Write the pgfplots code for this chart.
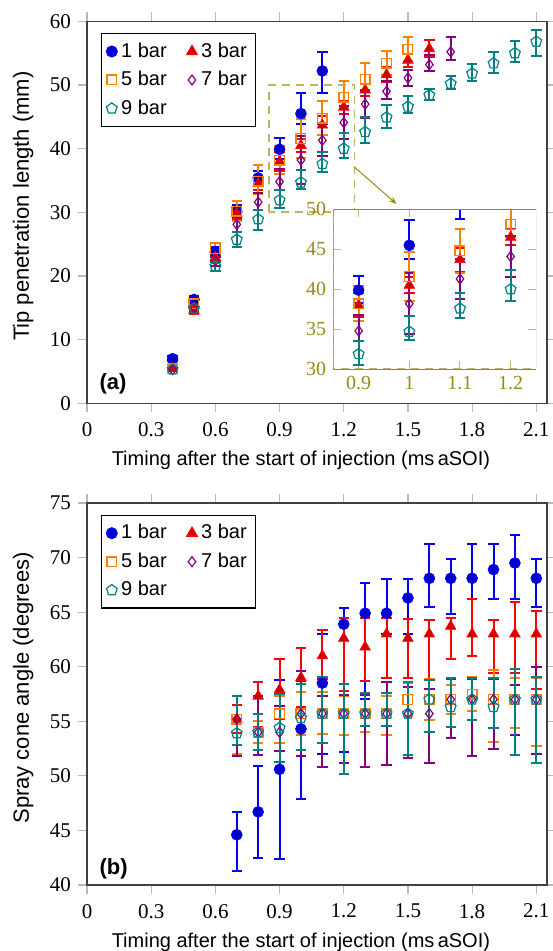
\documentclass[border=0pt]{standalone}
\usepackage{pgfplots}
\pgfplotsset{compat=1.18}
\usepackage{pgfplotstable}
\usepackage{fontspec}
\setmainfont{Liberation Serif}
\setsansfont{Liberation Sans}
\usetikzlibrary{arrows.meta}

\definecolor{insetcol}{RGB}{150,140,20}
\definecolor{dashcol}{RGB}{190,180,100}
\definecolor{tickgray}{RGB}{185,185,185}

% tip penetration (a): x, y, err+, err-
\pgfplotstableread{
x y ep em
0.4 7.0 0.4 0.4
0.5 16.3 0.6 0.6
0.6 23.8 0.8 0.8
0.7 30.1 1.0 1.0
0.8 35.4 1.1 1.1
0.9 39.9 1.8 1.6
1.0 45.5 3.2 1.7
1.1 52.2 3.0 3.4
}\tA
\pgfplotstableread{
x y ep em
0.4 5.5 0.3 0.3
0.5 14.6 0.5 0.5
0.6 22.9 0.7 0.7
0.7 29.8 0.8 0.8
0.8 34.5 1.0 1.0
0.9 38.0 1.5 1.5
1.0 40.5 1.0 1.0
1.1 43.7 1.5 1.5
1.2 46.5 1.0 1.0
1.3 49.2 1.0 1.0
1.4 51.6 1.2 1.2
1.5 53.9 1.0 1.0
1.6 55.7 1.3 1.3
}\tC
\pgfplotstableread{
x y ep em
0.4 5.4 0.4 0.4
0.5 15.6 0.6 0.6
0.6 24.3 0.8 0.8
0.7 30.2 1.5 1.5
0.8 34.9 2.6 2.0
0.9 38.2 2.2 2.2
1.0 41.6 3.0 3.0
1.1 44.8 2.7 2.7
1.2 48.1 2.5 1.6
1.3 50.9 2.6 1.9
1.4 53.4 1.9 1.9
1.5 55.6 1.9 1.9
}\tE
\pgfplotstableread{
x y ep em
0.4 5.3 0.3 0.3
0.5 15.1 0.6 0.6
0.6 22.4 0.8 0.8
0.7 28.1 1.2 1.2
0.8 31.6 1.5 1.2
0.9 34.8 2.0 1.3
1.0 38.2 3.8 3.8
1.1 41.3 2.5 2.5
1.2 44.1 2.6 2.6
1.3 47.0 2.2 2.2
1.4 49.0 1.7 1.2
1.5 51.1 1.2 1.2
1.6 53.2 1.5 1.0
1.7 55.2 2.4 1.3
}\tG
\pgfplotstableread{
x y ep em
0.4 5.3 0.3 0.3
0.5 14.9 0.5 0.5
0.6 21.5 0.7 0.7
0.7 25.7 1.2 1.2
0.8 28.9 1.5 1.7
0.9 31.9 1.6 1.3
1.0 34.7 2.0 1.0
1.1 37.6 1.9 1.2
1.2 40.0 2.4 1.5
1.3 42.6 2.4 1.7
1.4 44.9 1.9 1.7
1.5 46.6 1.6 1.0
1.6 48.4 1.0 0.8
1.7 50.2 1.2 0.8
1.8 51.8 1.5 1.1
1.9 53.4 1.8 1.5
2.0 55.0 1.9 1.4
2.1 56.8 1.9 2.3
}\tI

% spray cone angle (b)
\pgfplotstableread{
x y ep em
0.7 44.6 2.1 3.3
0.8 46.7 4.2 4.2
0.9 50.6 8.2 8.2
1.0 54.3 4.4 6.4
1.1 58.5 4.5 6.5
1.2 63.9 1.5 11.7
1.3 64.9 2.8 7.9
1.4 64.9 3.1 1.9
1.5 66.3 1.7 3.3
1.6 68.1 3.1 2.6
1.7 68.1 1.8 3.3
1.8 68.1 3.1 1.9
1.9 68.9 2.3 2.7
2.0 69.5 2.6 3.3
2.1 68.1 1.8 2.6
}\bA
\pgfplotstableread{
x y ep em
0.7 55.2 1.3 1.3
0.8 57.3 1.3 2.8
0.9 57.9 2.8 2.7
1.0 59.0 2.7 2.7
1.1 61.0 2.4 2.1
1.2 62.6 1.9 4.8
1.3 61.8 2.7 3.1
1.4 63.0 1.5 4.0
1.5 62.6 1.8 3.6
1.6 63.0 1.3 4.1
1.7 63.7 0.8 3.0
1.8 63.0 3.2 2.0
1.9 63.0 1.3 3.6
2.0 63.0 2.9 3.6
2.1 63.0 2.1 5.0
}\bC
\pgfplotstableread{
x y ep em
0.7 55.2 2.1 3.2
0.8 54.0 1.0 1.0
0.9 55.7 1.6 2.7
1.0 55.7 2.0 2.0
1.1 55.7 2.0 1.9
1.2 55.7 1.6 2.0
1.3 55.7 1.7 1.7
1.4 55.7 1.6 2.0
1.5 57.0 1.5 1.5
1.6 57.0 1.9 1.9
1.7 57.0 1.3 1.3
1.8 57.5 1.6 1.6
1.9 57.0 2.7 3.9
2.0 57.0 2.0 2.6
2.1 57.0 2.0 4.3
}\bE
\pgfplotstableread{
x y ep em
0.7 55.2 2.1 3.4
0.8 54.0 3.3 2.1
0.9 54.0 2.4 1.7
1.0 55.7 3.9 3.9
1.1 55.7 1.6 4.9
1.2 55.7 1.7 4.5
1.3 55.7 1.7 4.9
1.4 55.7 2.9 4.7
1.5 55.7 2.4 4.1
1.6 55.7 2.3 4.5
1.7 57.0 1.9 3.5
1.8 57.0 1.9 5.2
1.9 57.0 1.9 4.5
2.0 57.0 1.3 3.3
2.1 57.0 3.0 5.0
}\bG
\pgfplotstableread{
x y ep em
0.7 53.9 3.4 1.1
0.8 54.0 1.7 1.6
0.9 54.4 3.1 3.1
1.0 55.3 3.1 2.9
1.1 55.7 3.4 2.7
1.2 55.7 2.7 5.5
1.3 55.7 1.9 1.1
1.4 55.7 1.9 1.1
1.5 55.7 2.9 3.8
1.6 57.0 1.8 3.0
1.7 56.3 2.7 1.8
1.8 57.0 2.0 1.9
1.9 56.3 2.7 1.9
2.0 57.0 2.8 5.1
2.1 57.0 2.1 5.8
}\bI

\pgfplotsset{
  errb/.style={
    /pgfplots/error bars/y dir=both,
    /pgfplots/error bars/y explicit,
    /pgfplots/error bars/error bar style={line width=1pt, color=#1},
    /pgfplots/error bars/error mark options={rotate=90, mark size=2.6pt, line width=1pt, color=#1},
  },
  sA/.style={only marks, color=blue, mark=*, mark size=2.7pt, errb=blue},
  sC/.style={only marks, color=red, mark=triangle*, mark size=3pt, errb=red},
  sE/.style={only marks, color=orange, mark=square, mark size=2.4pt, mark options={line width=0.7pt}, errb=orange},
  sG/.style={only marks, color=violet, mark=diamond, mark size=2.5pt, mark options={line width=0.6pt}, errb=violet},
  sI/.style={only marks, color=teal, mark=pentagon, mark size=2.8pt, mark options={line width=0.6pt}, errb=teal},
  /pgfplots/table/dat/.style={/pgfplots/table/x=x, /pgfplots/table/y=y,
    /pgfplots/table/y error plus=ep, /pgfplots/table/y error minus=em},
  base/.style={
    scale only axis, width=230pt, height=191pt,
    xmin=0, xmax=2.15,
    xtick={0,0.3,0.6,0.9,1.2,1.5,1.8,2.1},
    xticklabels={0,0.3,0.6,0.9,1.2,1.5,1.8,2.1},
    tick align=outside, major tick length=4.5pt,
    tick style={color=tickgray, line width=0.6pt},
    axis line style={black!75, line width=0.6pt},
    tick label style={font=\fontsize{10.5}{12}\selectfont},
    xticklabel style={yshift=-1.5pt},
    /pgf/number format/assume math mode=true,
    xlabel style={font=\sffamily\fontsize{10}{12}\selectfont, at={(axis description cs:0.465,-0.149)}, anchor=center},
    ylabel style={font=\sffamily\fontsize{11}{13}\selectfont, at={(axis description cs:-0.1385,0.516)}, anchor=center},
    legend columns=2,
    legend image code/.code={\draw[##1] plot coordinates {(0.05cm,0cm)};},
    legend style={at={(axis description cs:0.03,0.969)}, anchor=north west,
      draw=black, line width=0.6pt, inner sep=2.5pt, row sep=1.5pt,
      font=\sffamily\fontsize{10}{12}\selectfont,
      /tikz/every even column/.append style={column sep=8pt},
      cells={anchor=west}},
  },
}

\begin{document}
\begin{tikzpicture}
\useasboundingbox (0,0) rectangle (276pt,-475.5pt);

% (a) tip penetration
\begin{axis}[base, at={(43.5pt,-201.65pt)}, anchor=south west,
  ymin=0, ymax=60, ytick={0,10,...,60},
  xlabel={Timing after the start of injection (ms\,aSOI)},
  ylabel={Tip penetration length (mm)}]
\addplot+[sA] table[dat] {\tA}; \addlegendentry{1 bar}
\addplot+[sC] table[dat] {\tC}; \addlegendentry{3 bar}
\addplot+[sE] table[dat] {\tE}; \addlegendentry{5 bar}
\addplot+[sG] table[dat] {\tG}; \addlegendentry{7 bar}
\addplot+[sI] table[dat] {\tI}; \addlegendentry{9 bar}
\draw[dashcol, line width=0.9pt, dash pattern=on 4pt off 3pt] (axis cs:0.85,30) rectangle (axis cs:1.25,50);
\draw[insetcol, line width=0.5pt, -{Stealth[length=4pt,width=3pt]}] (axis cs:1.25,37.1) -- (axis cs:1.447,31.3);
\node[anchor=west, font=\sffamily\bfseries\fontsize{11}{13}\selectfont] at (axis description cs:0.012,0.05) {(a)};
\end{axis}

% inset
\begin{axis}[scale only axis, at={(166.65pt,-184.65pt)}, anchor=south west,
  width=101.35pt, height=80pt,
  xmin=0.85, xmax=1.25, ymin=30, ymax=50,
  restrict x to domain=0.85:1.25,
  xtick={0.9,1,1.1,1.2}, xticklabels={0.9,1,1.1,1.2},
  ytick={30,35,40,45,50}, yticklabels={30,35,40,45,50},
  tick align=inside, major tick length=4pt,
  tick style={color=insetcol!60, line width=0.5pt},
  axis line style={draw=none},
  tick label style={font=\fontsize{10}{12}\selectfont, text=insetcol},
  axis background/.style={fill=white}]
\draw[dashcol, line width=0.9pt, dash pattern=on 4pt off 3pt] (rel axis cs:0,1) -- (rel axis cs:0,0) -- (rel axis cs:1,0);
\addplot+[sA] table[dat] {\tA};
\addplot+[sC] table[dat] {\tC};
\addplot+[sE] table[dat] {\tE};
\addplot+[sG] table[dat] {\tG};
\addplot+[sI] table[dat] {\tI};
\draw[insetcol, line width=0.5pt] (rel axis cs:0,0) rectangle (rel axis cs:1,1);
\end{axis}

% (b) spray cone angle
\begin{axis}[base, at={(43.5pt,-442.5pt)}, anchor=south west,
  ymin=40, ymax=75, ytick={40,45,...,75},
  xlabel={Timing after the start of injection (ms\,aSOI)},
  ylabel={Spray cone angle (degrees)}]
\addplot+[sA] table[dat] {\bA}; \addlegendentry{1 bar}
\addplot+[sC] table[dat] {\bC}; \addlegendentry{3 bar}
\addplot+[sE] table[dat] {\bE}; \addlegendentry{5 bar}
\addplot+[sG] table[dat] {\bG}; \addlegendentry{7 bar}
\addplot+[sI] table[dat] {\bI}; \addlegendentry{9 bar}
\node[anchor=west, font=\sffamily\bfseries\fontsize{11}{13}\selectfont] at (axis description cs:0.012,0.043) {(b)};
\end{axis}
\end{tikzpicture}
\end{document}
